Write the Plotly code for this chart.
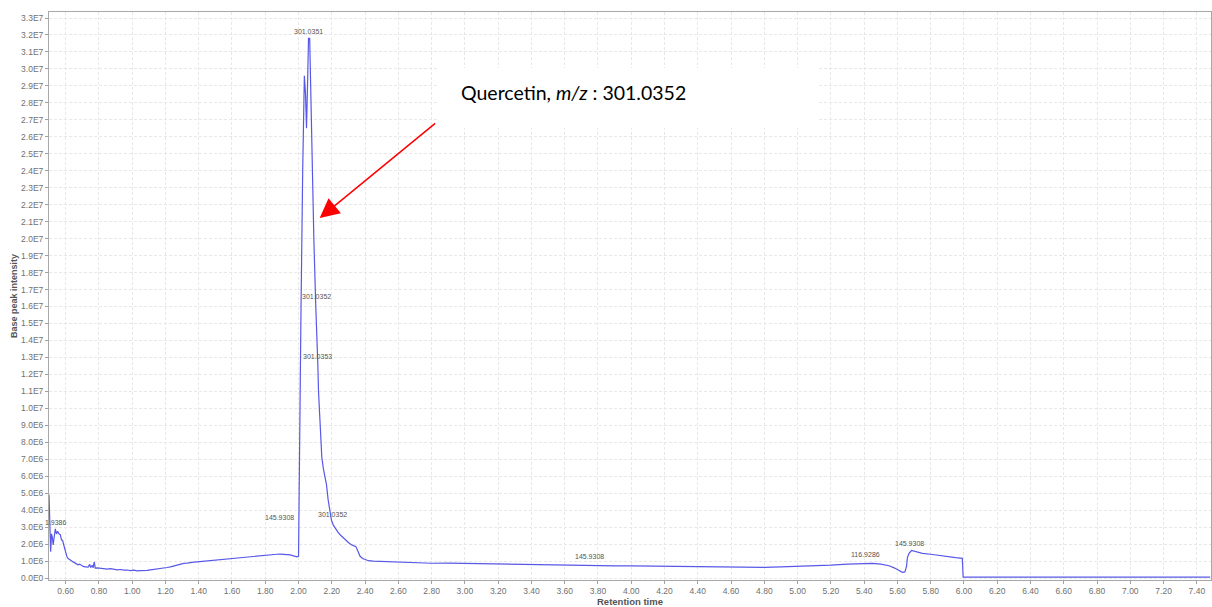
import plotly.graph_objects as go

# Retention time (min) and base peak intensity (x1E6)
rt = [0.500, 0.505, 0.510, 0.515, 0.520, 0.525, 0.530, 0.538, 0.545, 0.552, 0.560, 0.568,
      0.575, 0.582, 0.590, 0.600, 0.608, 0.615, 0.625, 0.635, 0.645, 0.655, 0.665, 0.675,
      0.685, 0.695, 0.705, 0.720, 0.735, 0.745, 0.750, 0.760, 0.765, 0.772, 0.778, 0.790,
      0.810, 0.830, 0.850, 0.870, 0.890, 0.910, 0.930, 0.950, 0.970, 0.990, 1.010, 1.030,
      1.050, 1.070, 1.090, 1.110, 1.130, 1.150, 1.170, 1.190, 1.210, 1.230, 1.250, 1.270,
      1.290, 1.310, 1.330, 1.350, 1.370, 1.390, 1.410, 1.430, 1.450, 1.470, 1.490, 1.510,
      1.530, 1.550, 1.570, 1.590, 1.610, 1.630, 1.650, 1.670, 1.690, 1.710, 1.730, 1.750,
      1.770, 1.790, 1.810, 1.830, 1.850, 1.870, 1.890, 1.910, 1.930, 1.950, 1.970, 1.990,
      2.000, 2.005, 2.015, 2.025, 2.035, 2.042, 2.048, 2.054, 2.060, 2.067, 2.080, 2.092,
      2.103, 2.106, 2.112, 2.116, 2.120, 2.126, 2.133, 2.140, 2.150, 2.160, 2.168, 2.178,
      2.188, 2.198, 2.210, 2.225, 2.237, 2.250, 2.265, 2.280, 2.290, 2.305, 2.320, 2.335,
      2.345, 2.352, 2.360, 2.370, 2.385, 2.400, 2.420, 2.450, 2.500, 2.550, 2.600, 2.650,
      2.700, 2.750, 2.800, 2.900, 3.000, 3.100, 3.200, 3.300, 3.400, 3.500, 3.600, 3.700,
      3.800, 3.900, 4.000, 4.100, 4.200, 4.300, 4.400, 4.500, 4.600, 4.700, 4.800, 4.900,
      5.000, 5.100, 5.200, 5.300, 5.400, 5.450, 5.500, 5.550, 5.580, 5.610, 5.630, 5.645,
      5.655, 5.660, 5.670, 5.685, 5.700, 5.720, 5.750, 5.800, 5.850, 5.900, 5.950, 5.990,
      5.995, 6.100, 7.480]
intensity_e6 = [4.90, 3.50, 1.55, 2.60, 2.40, 1.95, 2.50, 2.90, 2.60, 2.75, 2.60, 2.55,
      2.25, 2.20, 1.90, 1.50, 1.25, 1.15, 1.10, 1.02, 0.95, 0.90, 0.85, 0.78,
      0.82, 0.72, 0.68, 0.66, 0.64, 0.80, 0.62, 0.75, 0.60, 0.95, 0.58, 0.60,
      0.57, 0.55, 0.52, 0.55, 0.50, 0.48, 0.50, 0.46, 0.47, 0.44, 0.46, 0.42,
      0.44, 0.43, 0.45, 0.48, 0.50, 0.53, 0.56, 0.58, 0.62, 0.66, 0.72, 0.78,
      0.82, 0.86, 0.88, 0.92, 0.93, 0.95, 0.97, 0.98, 1.00, 1.02, 1.03, 1.05,
      1.07, 1.10, 1.12, 1.14, 1.16, 1.18, 1.20, 1.22, 1.24, 1.28, 1.30, 1.32,
      1.33, 1.35, 1.36, 1.38, 1.39, 1.40, 1.41, 1.40, 1.38, 1.36, 1.30, 1.25,
      1.28, 8.00, 16.0, 24.0, 29.6, 28.5, 26.5, 29.0, 31.8, 31.8, 25.0, 20.0,
      16.2, 15.5, 13.5, 12.6, 11.0, 9.50, 8.00, 7.10, 6.40, 6.00, 5.50, 4.60,
      3.90, 3.40, 3.10, 2.85, 2.70, 2.55, 2.40, 2.28, 2.20, 2.05, 1.95, 1.90,
      1.85, 1.70, 1.45, 1.28, 1.15, 1.08, 1.02, 1.00, 0.98, 1.00, 0.96, 0.95,
      0.93, 0.90, 0.87, 0.88, 0.86, 0.85, 0.86, 0.84, 0.82, 0.80, 0.78, 0.76,
      0.74, 0.72, 0.71, 0.70, 0.68, 0.66, 0.63, 0.62, 0.62, 0.63, 0.63, 0.65,
      0.68, 0.72, 0.76, 0.82, 0.86, 0.86, 0.82, 0.72, 0.60, 0.45, 0.33, 0.36,
      0.70, 1.20, 1.45, 1.62, 1.58, 1.50, 1.45, 1.40, 1.32, 1.25, 1.20, 1.16,
      0.05, 0.05, 0.05]

# Peak m/z labels (text-centre positions)
peak_rt = [0.540, 2.061, 2.109, 2.115, 2.205, 1.887, 3.750, 5.410, 5.675]
peak_int_e6 = [3.30, 32.2, 16.56, 13.08, 3.77, 3.54, 1.24, 1.36, 2.06]
peak_text = ["1.9386", "301.0351", "301.0352", "301.0353", "301.0352",
             "145.9308", "145.9308", "116.9286", "145.9308"]

# Axis ticks
x_tick_vals = [0.6, 0.8, 1.0, 1.2, 1.4, 1.6, 1.8, 2.0, 2.2, 2.4, 2.6, 2.8, 3.0, 3.2, 3.4,
               3.6, 3.8, 4.0, 4.2, 4.4, 4.6, 4.8, 5.0, 5.2, 5.4, 5.6, 5.8, 6.0, 6.2, 6.4,
               6.6, 6.8, 7.0, 7.2, 7.4]
x_tick_text = ["0.60", "0.80", "1.00", "1.20", "1.40", "1.60", "1.80", "2.00", "2.20",
               "2.40", "2.60", "2.80", "3.00", "3.20", "3.40", "3.60", "3.80", "4.00",
               "4.20", "4.40", "4.60", "4.80", "5.00", "5.20", "5.40", "5.60", "5.80",
               "6.00", "6.20", "6.40", "6.60", "6.80", "7.00", "7.20", "7.40"]
y_tick_vals_e6 = list(range(0, 34))
y_tick_text = ["0.0E0", "1.0E6", "2.0E6", "3.0E6", "4.0E6", "5.0E6", "6.0E6", "7.0E6",
               "8.0E6", "9.0E6", "1.0E7", "1.1E7", "1.2E7", "1.3E7", "1.4E7", "1.5E7",
               "1.6E7", "1.7E7", "1.8E7", "1.9E7", "2.0E7", "2.1E7", "2.2E7", "2.3E7",
               "2.4E7", "2.5E7", "2.6E7", "2.7E7", "2.8E7", "2.9E7", "3.0E7", "3.1E7",
               "3.2E7", "3.3E7"]

E6 = 1e6
intensity = [v * E6 for v in intensity_e6]

fig = go.Figure()
fig.add_trace(go.Scatter(x=rt, y=intensity, mode="lines",
                         line=dict(color="rgb(88,88,232)", width=1.2),
                         hoverinfo="skip", showlegend=False))

for px, py, tx in zip(peak_rt, peak_int_e6, peak_text):
    fig.add_annotation(x=px, y=py * E6, text=tx, showarrow=False,
                       font=dict(family="Liberation Sans", size=7, color="#555555"))

# Callout box
fig.add_shape(type="rect", xref="paper", yref="paper",
              x0=0.3339, x1=0.6609, y0=0.7958, y1=0.9014,
              fillcolor="white", line=dict(width=0), layer="above")
fig.add_annotation(xref="paper", yref="paper", x=0.3528, y=0.8574,
                   xanchor="left", yanchor="middle", showarrow=False,
                   text="Quercetin, <i>m/z</i> : 301.0352",
                   font=dict(family="Lato", size=19.5, color="black"))
# Red arrow
fig.add_annotation(x=2.127, y=21.21 * E6, text="", showarrow=True,
                   ax=117, ay=-96, axref="pixel", ayref="pixel",
                   arrowcolor="red", arrowwidth=1.5, arrowhead=2, arrowsize=2.6)

axis_common = dict(showline=True, linecolor="#a8a8a8", linewidth=1, mirror=True,
                   showgrid=True, gridcolor="#e8e8e8", griddash="3px,2px", gridwidth=1,
                   ticks="outside", ticklen=3, tickcolor="#a0a0a0",
                   tickfont=dict(family="Liberation Sans", size=8.5, color="#707070"),
                   zeroline=False)

fig.update_xaxes(range=[0.5, 7.485], tickvals=x_tick_vals, ticktext=x_tick_text,
                 title=dict(text="<b>Retention time</b>", standoff=2,
                            font=dict(family="Liberation Sans", size=9.5, color="#555555")),
                 **axis_common)
fig.update_yaxes(range=[-0.118 * E6, 33.354 * E6],
                 tickvals=[v * E6 for v in y_tick_vals_e6], ticktext=y_tick_text,
                 title=dict(text="<b>Base peak intensity</b>", standoff=1,
                            font=dict(family="Liberation Sans", size=9, color="#555555")),
                 **axis_common)

fig.update_layout(width=1212, height=607,
                  margin=dict(l=49, r=1, t=12, b=27, pad=0),
                  plot_bgcolor="white", paper_bgcolor="white")

fig.write_html("out.html")
